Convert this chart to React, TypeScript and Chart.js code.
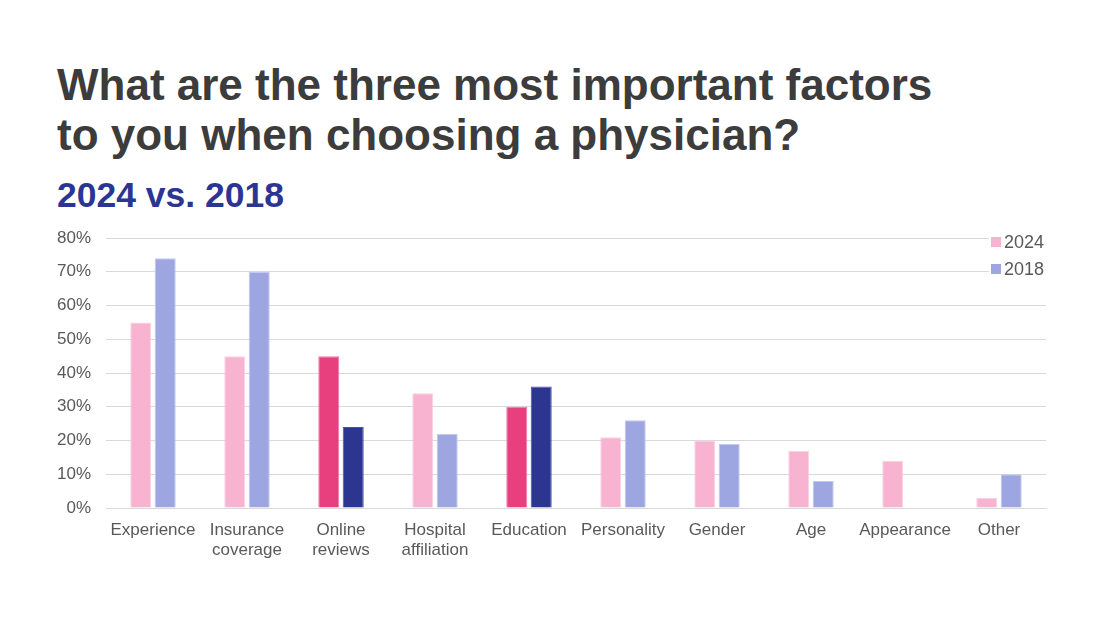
import React, { useEffect, useRef } from "react";
import { Chart, registerables } from "chart.js";

Chart.register(...registerables);

const categories: (string | string[])[] = [
  "Experience",
  ["Insurance", "coverage"],
  ["Online", "reviews"],
  ["Hospital", "affiliation"],
  "Education",
  "Personality",
  "Gender",
  "Age",
  "Appearance",
  "Other",
];
const values2024: (number | null)[] = [55, 45, 45, 34, 30, 21, 20, 17, 14, 3];
const values2018: (number | null)[] = [74, 70, 24, 22, 36, 26, 19, 8, null, 10];
const highlighted: number[] = [2, 4];
const yTicks: number[] = [0, 10, 20, 30, 40, 50, 60, 70, 80];

const PINK = "#F7B3D0";
const PINK_BORDER = "#FAD2E3";
const BLUE = "#9DA6E0";
const BLUE_BORDER = "#C3C8EE";
const HOT_PINK = "#E8407F";
const HOT_PINK_BORDER = "#F07AA6";
const NAVY = "#2C3590";
const NAVY_BORDER = "#4A53A6";
const TEXT_GRAY = "#595959";
const FONT = "'Liberation Sans', Arial, sans-serif";

const legendPlugin = {
  id: "floatingLegend",
  afterDraw(chart: any) {
    const ctx = chart.ctx;
    const area = chart.chartArea;
    const x0 = area.right - 55;
    const y0 = area.top - 8;
    ctx.save();
    ctx.fillStyle = "#ffffff";
    ctx.fillRect(x0 - 2, y0, 62, 54);
    chart.data.datasets.forEach((ds: any, i: number) => {
      const cy = y0 + 12 + i * 27;
      ctx.fillStyle = ds.legendColor;
      ctx.fillRect(x0, cy - 5, 10, 10);
      ctx.fillStyle = TEXT_GRAY;
      ctx.font = `18px ${FONT}`;
      ctx.textBaseline = "middle";
      ctx.textAlign = "left";
      ctx.fillText(ds.label, x0 + 13, cy + 1);
    });
    ctx.restore();
  },
};

export default function App() {
  const ref = useRef<HTMLCanvasElement | null>(null);

  useEffect(() => {
    if (!ref.current) return;
    const colors2024 = values2024.map((_, i) => (highlighted.includes(i) ? HOT_PINK : PINK));
    const borders2024 = values2024.map((_, i) => (highlighted.includes(i) ? HOT_PINK_BORDER : PINK_BORDER));
    const colors2018 = values2018.map((_, i) => (highlighted.includes(i) ? NAVY : BLUE));
    const borders2018 = values2018.map((_, i) => (highlighted.includes(i) ? NAVY_BORDER : BLUE_BORDER));

    const chart = new Chart(ref.current, {
      type: "bar",
      data: {
        labels: categories,
        datasets: [
          {
            label: "2024",
            data: values2024,
            backgroundColor: colors2024,
            borderColor: borders2024,
            borderWidth: 1,
            legendColor: PINK,
          } as any,
          {
            label: "2018",
            data: values2018,
            backgroundColor: colors2018,
            borderColor: borders2018,
            borderWidth: 1,
            legendColor: BLUE,
          } as any,
        ],
      },
      options: {
        animation: false,
        responsive: false,
        maintainAspectRatio: false,
        layout: { padding: { left: 0, right: 54, top: 13, bottom: 0 } },
        datasets: {
          bar: { categoryPercentage: 0.52, barPercentage: 0.86 },
        },
        plugins: {
          legend: { display: false },
          tooltip: { enabled: false },
          title: { display: false },
        },
        scales: {
          x: {
            grid: { display: false, drawTicks: false },
            border: { display: true, color: "#D9D9D9", width: 1 },
            ticks: {
              color: TEXT_GRAY,
              font: { family: FONT, size: 17, lineHeight: 1.2 },
              padding: 12,
              maxRotation: 0,
              autoSkip: false,
            },
            afterFit: (scale: any) => {
              scale.height = 111;
            },
          },
          y: {
            min: 0,
            max: 80,
            afterBuildTicks: (scale: any) => {
              scale.ticks = yTicks.map((v) => ({ value: v }));
            },
            grid: { color: "#D9D9D9", lineWidth: 1, drawTicks: false },
            border: { display: false },
            ticks: {
              color: TEXT_GRAY,
              font: { family: FONT, size: 17 },
              padding: 15,
              callback: (v: any) => `${v}%`,
            },
            afterFit: (scale: any) => {
              scale.width = 106;
              scale.paddingTop = 0;
              scale.paddingBottom = 0;
            },
          },
        },
      },
      plugins: [legendPlugin],
    });
    return () => chart.destroy();
  }, []);

  return (
    <div
      style={{
        position: "absolute",
        left: 0,
        top: 0,
        width: 1100,
        height: 619,
        background: "#ffffff",
        overflow: "hidden",
      }}
    >
      <div
        style={{
          position: "absolute",
          left: 57,
          top: 60,
          fontFamily: FONT,
          fontWeight: 700,
          fontSize: 44,
          lineHeight: "50px",
          color: "#3C3C3C",
          whiteSpace: "nowrap",
        }}
      >
        What are the three most important factors
        <br />
        to you when choosing a physician?
      </div>
      <div
        style={{
          position: "absolute",
          left: 57,
          top: 175,
          fontFamily: FONT,
          fontWeight: 700,
          fontSize: 35.5,
          lineHeight: "40px",
          color: "#2B3594",
          whiteSpace: "nowrap",
        }}
      >
        2024 vs. 2018
      </div>
      <canvas
        ref={ref}
        width={1100}
        height={394}
        style={{ position: "absolute", left: 0, top: 225, width: 1100, height: 394 }}
      />
    </div>
  );
}
